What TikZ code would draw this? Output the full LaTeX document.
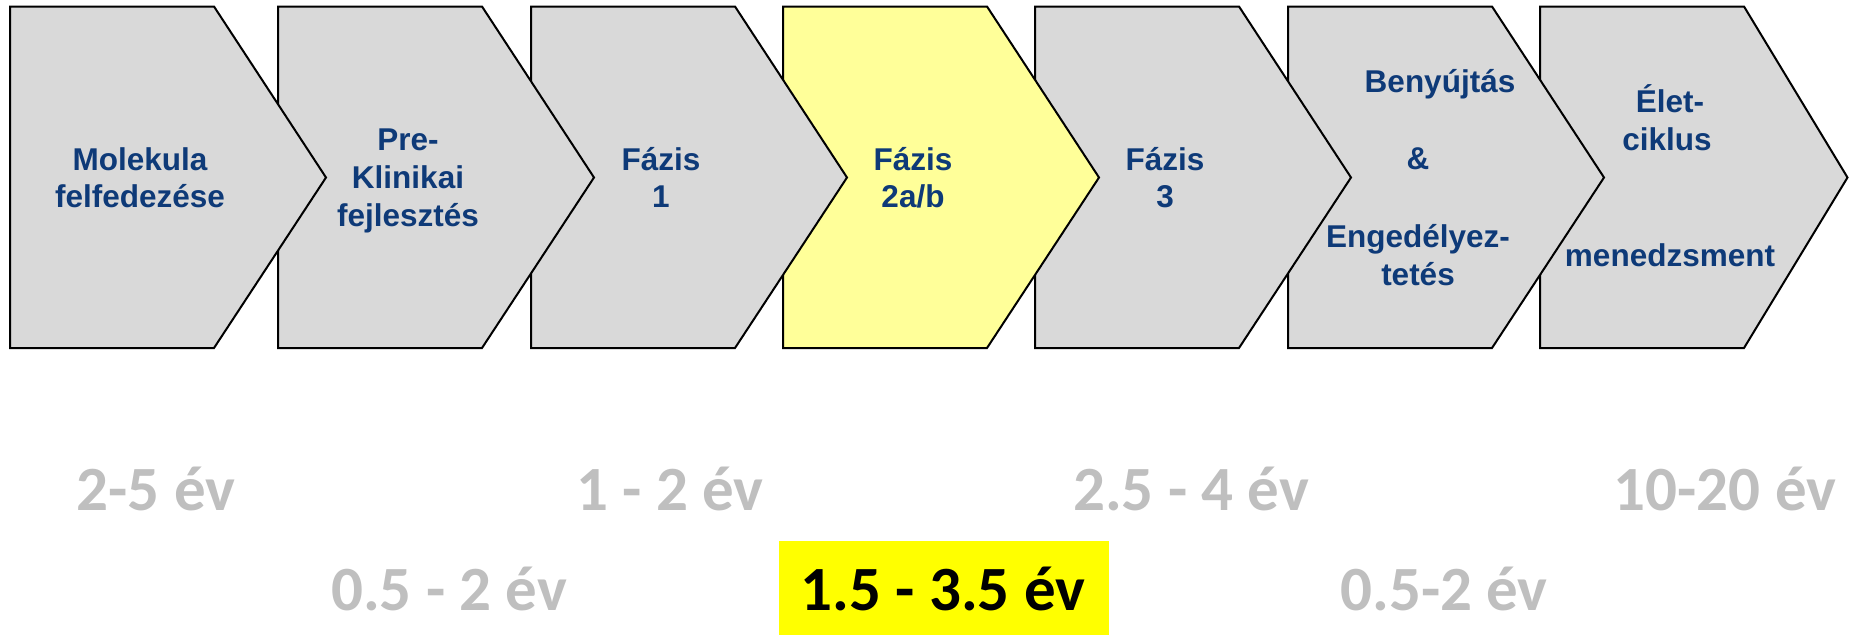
\documentclass[tikz,border=0pt]{standalone}
\usepackage{fontspec}
\setmainfont{Liberation Sans}
\newfontfamily\calfont{Carlito}
\definecolor{chevgray}{HTML}{D9D9D9}
\definecolor{chevyellow}{HTML}{FFFF99}
\definecolor{txtblue}{HTML}{0E3A78}
\definecolor{durgray}{HTML}{BFBFBF}
\definecolor{hiyellow}{HTML}{FFFF00}
\begin{document}
\begin{tikzpicture}[x=1pt,y=-1pt,
  chev/.style={draw=black,line width=2pt,line join=miter},
  lbl/.style={anchor=base,inner sep=0pt,text=txtblue,font=\fontsize{31.5}{38}\selectfont\bfseries},
  dur/.style={anchor=base,inner sep=0pt,text=durgray,font=\calfont\fontsize{63}{70}\selectfont\bfseries},
  durhi/.style={anchor=base,inner sep=0pt,text=black,font=\calfont\fontsize{63}{70}\selectfont\bfseries}]
\useasboundingbox (0,0) rectangle (1849,635);
% chevrons, drawn right to left so each earlier one lies on top
\draw[chev,fill=chevgray]   (1540,6.5) -- (1744,6.5) -- (1847.5,177.5) -- (1744,348) -- (1540,348) -- cycle;
\draw[chev,fill=chevgray]   (1288,6.5) -- (1492,6.5) -- (1604,177.5) -- (1492,348) -- (1288,348) -- cycle;
\draw[chev,fill=chevgray]   (1035,6.5) -- (1239,6.5) -- (1351,177.5) -- (1239,348) -- (1035,348) -- cycle;
\draw[chev,fill=chevyellow] (783,6.5) -- (987,6.5) -- (1099,177.5) -- (987,348) -- (783,348) -- cycle;
\draw[chev,fill=chevgray]   (531,6.5) -- (735,6.5) -- (847,177.5) -- (735,348) -- (531,348) -- cycle;
\draw[chev,fill=chevgray]   (278,6.5) -- (482,6.5) -- (594,177.5) -- (482,348) -- (278,348) -- cycle;
\draw[chev,fill=chevgray]   (10,6.5) -- (214,6.5) -- (326,177.5) -- (214,348) -- (10,348) -- cycle;
% chevron labels
\node[lbl] (m1) at (140,170) {Molekula};
\node[lbl] (m2) at (140,207.5) {felfedezése};
\node[lbl] (p1) at (408,150.5) {Pre-};
\node[lbl] (p2) at (408,188.5) {Klinikai};
\node[lbl] (p3) at (408,226.5) {fejlesztés};
\node[lbl] (f1a) at (661,170) {Fázis};
\node[lbl] (f1b) at (661,207.5) {1};
\node[lbl] (f2a) at (913,170) {Fázis};
\node[lbl] (f2b) at (913,207.5) {2a/b};
\node[lbl] (f3a) at (1165,170) {Fázis};
\node[lbl] (f3b) at (1165,207.5) {3};
\node[lbl] (b1) at (1440,92) {Benyújtás};
\node[lbl] (b2) at (1418,169) {\&};
\node[lbl] (b3) at (1418,247) {Engedélyez-};
\node[lbl] (b4) at (1418,285) {tetés};
\node[lbl] (e1) at (1670,112) {Élet-};
\node[lbl] (e2) at (1667,150) {ciklus};
\node[lbl] (e3) at (1670,266) {menedzsment};
% durations
\fill[hiyellow] (779,541) rectangle (1109,635);
\node[dur] (d1) at (156,510) {2-5 év};
\node[dur] (d3) at (670,510) {1 - 2 év};
\node[dur] (d5) at (1191,510) {2.5 - 4 év};
\node[dur] (d7) at (1725,510) {10-20 év};
\node[dur] (d2) at (449,610) {0.5 - 2 év};
\node[durhi] (d4) at (943,610) {1.5 - 3.5 év};
\node[dur] (d6) at (1444,610) {0.5-2 év};
\end{tikzpicture}
\end{document}
